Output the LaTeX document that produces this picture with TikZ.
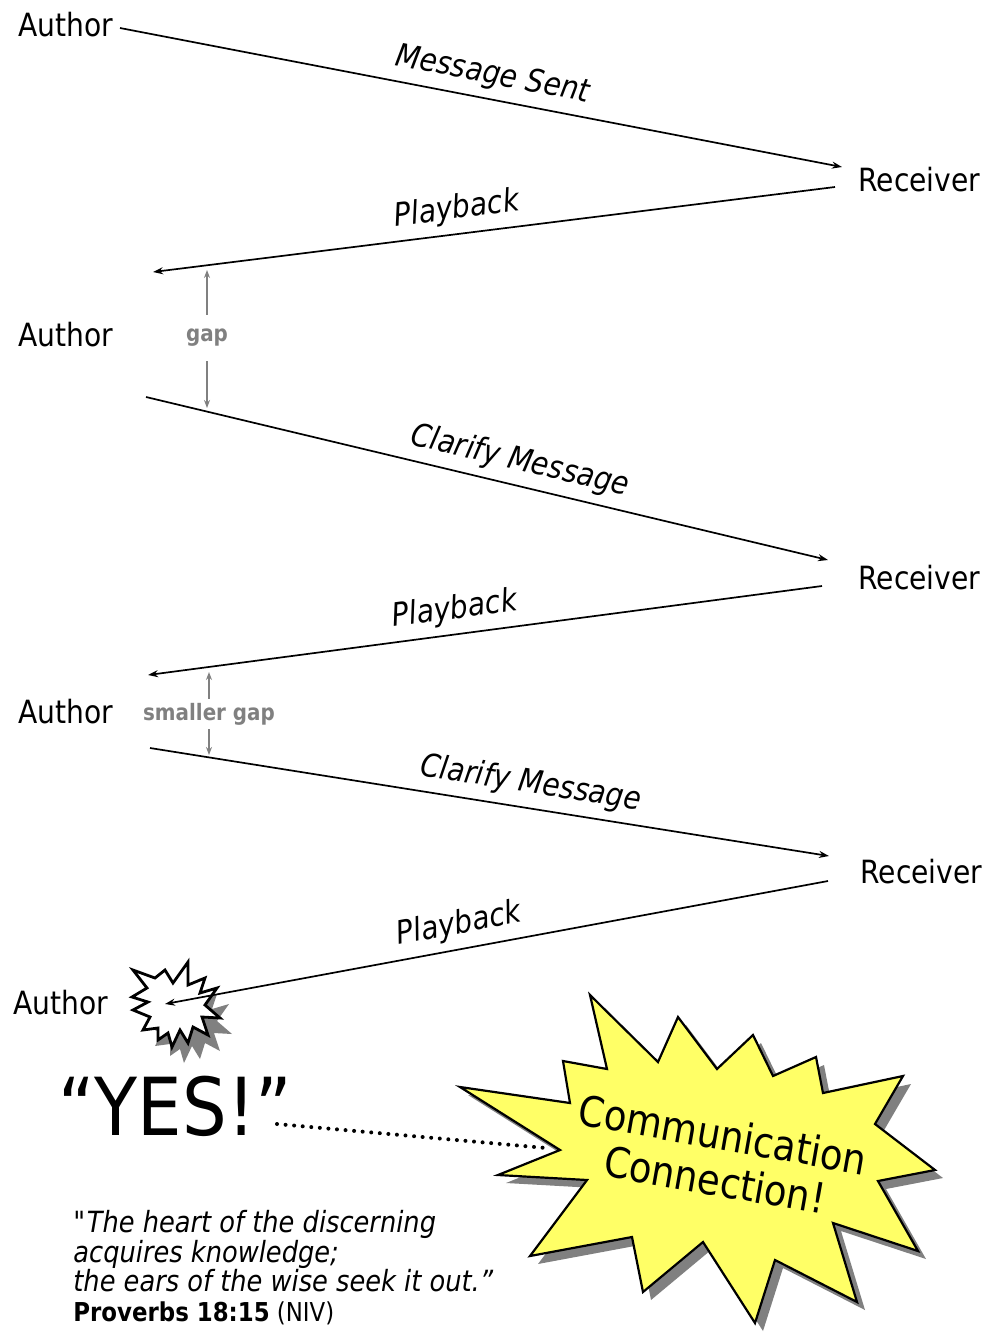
\documentclass[tikz,border=0pt]{standalone}
\usepackage{fontspec}
\setmainfont{DejaVu Sans}[FakeStretch=0.88]
\usetikzlibrary{arrows.meta}

\tikzset{
  actor/.style={inner sep=0pt, anchor=base west, font=\fontsize{16}{19}\selectfont},
  msg/.style={-{Stealth[length=5pt,width=3.5pt]}, line width=0.85pt},
  back/.style={{Stealth[length=5pt,width=3.5pt]}-, line width=0.85pt},
  lbl/.style={sloped, above, inner sep=4pt, font=\fontsize{16}{19}\selectfont\itshape},
  gaptext/.style={text=gray, font=\fontsize{11.3}{13}\selectfont\bfseries, inner sep=1pt},
  gaparrow/.style={gray, line width=0.8pt, -{Stealth[length=4pt,width=3pt]}},
}

\newcommand\burstpath{(590,995) -- (658,1062) -- (678,1017) -- (717,1069) -- (753,1035) -- (773,1076) -- (816,1057) -- (823,1093) -- (903,1076) -- (875,1124) -- (935,1170) -- (878,1181) -- (918,1251) -- (833,1223) -- (857,1302) -- (775,1260) -- (755,1323) -- (703,1242) -- (643,1292) -- (632,1237) -- (530,1256) -- (587,1180) -- (498,1175) -- (560,1150) -- (460,1087) -- (570,1103) -- (563,1061) -- (607,1069) -- cycle}
\newcommand\sparkpath{(133,970) -- (155,978) -- (165,970) -- (173,983) -- (188,962) -- (188,985) -- (205,978) -- (200,993) -- (217,988) -- (205,1005) -- (220,1018) -- (202,1017) -- (208,1035) -- (193,1027) -- (188,1043) -- (180,1030) -- (172,1047) -- (168,1033) -- (158,1040) -- (158,1028) -- (143,1030) -- (150,1017) -- (133,1010) -- (148,1002) -- (132,997) -- (147,988) -- cycle}

\begin{document}
\begin{tikzpicture}[x=0.5pt, y=-0.5pt]
\useasboundingbox (0,0) rectangle (993,1340);

% authors and receivers
\node[actor] (author1) at (18,36) {Author};
\node[actor] (receiver1) at (858,191) {Receiver};
\node[actor] (author2) at (18,346) {Author};
\node[actor] (receiver2) at (858,589) {Receiver};
\node[actor] (author3) at (18,723) {Author};
\node[actor] (receiver3) at (860,883) {Receiver};
\node[actor] (author4) at (13,1014) {Author};

% line ends
\coordinate (m1s) at (120,28);  \coordinate (m1e) at (842,167);
\coordinate (p1s) at (153,272); \coordinate (p1e) at (835,187);
\coordinate (m2s) at (146,397); \coordinate (m2e) at (828,560);
\coordinate (p2s) at (148,675); \coordinate (p2e) at (822,586);
\coordinate (m3s) at (150,748); \coordinate (m3e) at (829,856);
\coordinate (p3s) at (165,1004); \coordinate (p3e) at (828,881);

% spark at the last author
\fill[gray, shift={(12,16)}] \sparkpath;
\draw[fill=white, line width=1.4pt, line join=miter] \sparkpath;

% messages
\draw[msg] (m1s) -- node[lbl, pos=0.51] {Message Sent} (m1e);
\draw[back] (p1s) -- node[lbl, pos=0.45] {Playback} (p1e);
\draw[msg] (m2s) -- node[lbl, pos=0.54] {Clarify Message} (m2e);
\draw[back] (p2s) -- node[lbl, pos=0.46] {Playback} (p2e);
\draw[msg] (m3s) -- node[lbl, pos=0.555] {Clarify Message} (m3e);
\draw[back] (p3s) -- node[lbl, pos=0.45] {Playback} (p3e);

% gaps
\node[gaptext] (gap1) at (207,338) {gap};
\coordinate (g1t) at (207,270); \coordinate (g1b) at (207,408);
\draw[gaparrow] (gap1.north) ++(0,-12) -- (g1t);
\draw[gaparrow] (gap1.south) ++(0,12) -- (g1b);

\node[gaptext] (gap2) at (209,714) {smaller gap};
\coordinate (g2t) at (209,672); \coordinate (g2b) at (209,755);
\draw[gaparrow] (gap2.north) ++(0,-2) -- (g2t);
\draw[gaparrow] (gap2.south) ++(0,2) -- (g2b);

% the connection
\fill[gray, shift={(8,8)}] \burstpath;
\draw[fill={rgb,255:red,255;green,255;blue,102}, line width=1.1pt, line join=miter] \burstpath;
\node[rotate=-10, align=center, font=\fontsize{21}{23}\selectfont] (connect) at (719,1157) {Communication\\Connection!};

\node[inner sep=0pt, anchor=base west, font=\fontsize{40}{44}\selectfont] (yes) at (58,1135) {“YES!”};
\coordinate (yesend) at (277,1124); \coordinate (burstin) at (546,1148);
\draw[line width=2pt, line cap=round, dash pattern=on 0pt off 4.3pt] (yesend) -- (burstin);

% proverb
\node[anchor=north west, align=left, inner sep=0pt, font=\fontsize{14.6}{14.8}\selectfont\itshape] (quote) at (73,1210)
  {\textquotedbl The heart of the discerning\\acquires knowledge;\\the ears of the wise seek it out.”\\
   {\upshape\fontsize{13}{14}\selectfont\textbf{Proverbs 18:15} (NIV)}};

\end{tikzpicture}
\end{document}
